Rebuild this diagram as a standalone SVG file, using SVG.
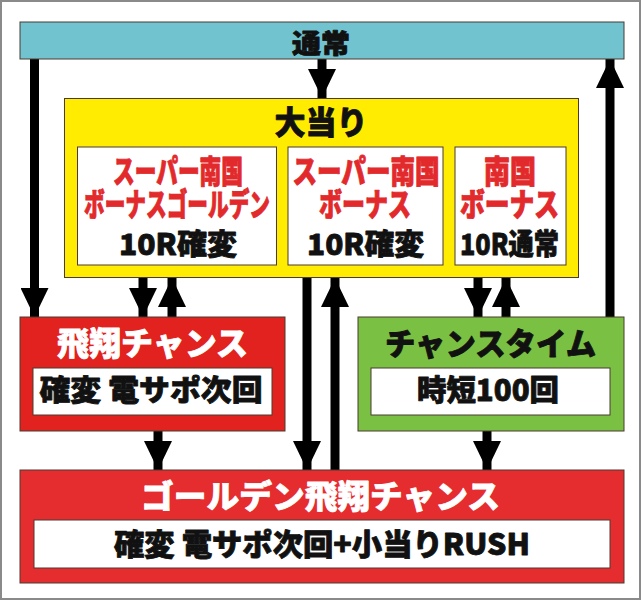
<svg xmlns="http://www.w3.org/2000/svg" width="642" height="601" viewBox="0 0 642 601">
  <style>
    text { font-family: "Noto Sans CJK JP", "Noto Sans", sans-serif; font-weight: 900; text-anchor: middle; stroke-width: 0.8px; stroke-linejoin: round; }
    .box { stroke: #4a3a30; stroke-width: 1; }
    .inner { fill: #ffffff; stroke: #4a3a30; stroke-width: 1; }
    .red { fill: #e2292b; stroke: #e2292b; font-size: 28px; }
    .blk { fill: #111111; stroke: #111111; }
    .wht { fill: #ffffff; stroke: #ffffff; }
    .conn { stroke: #000000; stroke-width: 9; fill: none; marker-end: url(#ah); }
  </style>
  <defs>
    <marker id="ah" markerUnits="userSpaceOnUse" viewBox="0 0 29 28" markerWidth="29" markerHeight="28" refX="29" refY="14" orient="auto">
      <path d="M0,0 L29,14 L0,28 Z" fill="#000000"/>
    </marker>
  </defs>

  <rect x="1" y="1" width="639" height="598" fill="#ffffff" stroke="#8a8a8a" stroke-width="2"/>

  <g id="connectors">
    <line class="conn" x1="322" y1="59" x2="322" y2="98"/>
    <line class="conn" x1="34.5" y1="59" x2="34.5" y2="317"/>
    <line class="conn" x1="610" y1="317" x2="610" y2="59"/>
    <line class="conn" x1="143" y1="278" x2="143" y2="317"/>
    <line class="conn" x1="172" y1="317" x2="172" y2="278"/>
    <line class="conn" x1="307" y1="278" x2="307" y2="470"/>
    <line class="conn" x1="335" y1="470" x2="335" y2="278"/>
    <line class="conn" x1="478" y1="278" x2="478" y2="317"/>
    <line class="conn" x1="506" y1="317" x2="506" y2="278"/>
    <line class="conn" x1="158" y1="431" x2="158" y2="470"/>
    <line class="conn" x1="487" y1="431" x2="487" y2="470"/>
  </g>

  <g id="tsujo">
    <rect class="box" x="20" y="22" width="604" height="37" fill="#70c3cf"/>
    <text class="blk" x="321" y="53" font-size="26" textLength="58" lengthAdjust="spacingAndGlyphs">通常</text>
  </g>

  <g id="ooatari">
    <rect class="box" x="64.5" y="98.5" width="514" height="179" fill="#ffec00"/>
    <text class="blk" x="321" y="134" font-size="32" textLength="93" lengthAdjust="spacingAndGlyphs">大当り</text>
  </g>

  <g id="super-golden">
    <rect class="inner" x="77.5" y="147" width="199" height="118"/>
    <text class="red" transform="translate(178,183) scale(1,1.12)" x="0" y="0" textLength="130" lengthAdjust="spacingAndGlyphs">スーパー南国</text>
    <text class="red" transform="translate(177,216) scale(1,1.12)" x="0" y="0" textLength="186" lengthAdjust="spacingAndGlyphs">ボーナスゴールデン</text>
    <text class="blk" x="178" y="255" font-size="29" textLength="118" lengthAdjust="spacingAndGlyphs">10R確変</text>
  </g>

  <g id="super-bonus">
    <rect class="inner" x="288" y="147" width="155" height="118"/>
    <text class="red" transform="translate(366,183) scale(1,1.12)" x="0" y="0" textLength="147" lengthAdjust="spacingAndGlyphs">スーパー南国</text>
    <text class="red" transform="translate(365,216) scale(1,1.12)" x="0" y="0" textLength="92" lengthAdjust="spacingAndGlyphs">ボーナス</text>
    <text class="blk" x="365.5" y="255" font-size="29" textLength="117" lengthAdjust="spacingAndGlyphs">10R確変</text>
  </g>

  <g id="nangoku-bonus">
    <rect class="inner" x="455" y="147" width="111" height="118"/>
    <text class="red" transform="translate(510,183) scale(1,1.12)" x="0" y="0" textLength="52" lengthAdjust="spacingAndGlyphs">南国</text>
    <text class="red" transform="translate(509.5,216) scale(1,1.12)" x="0" y="0" textLength="99" lengthAdjust="spacingAndGlyphs">ボーナス</text>
    <text class="blk" x="509.5" y="255" font-size="29" textLength="99" lengthAdjust="spacingAndGlyphs">10R通常</text>
  </g>

  <g id="hisho-chance">
    <rect class="box" x="20" y="317" width="265" height="114" fill="#e2221e"/>
    <text class="wht" x="152.5" y="355" font-size="32" textLength="191" lengthAdjust="spacingAndGlyphs">飛翔チャンス</text>
    <rect class="inner" x="33" y="368" width="239" height="47"/>
    <text class="blk" x="151" y="401" font-size="29" textLength="223" lengthAdjust="spacingAndGlyphs">確変 電サポ次回</text>
  </g>

  <g id="chance-time">
    <rect class="box" x="358" y="317" width="266" height="114" fill="#7ac143"/>
    <text class="blk" x="490.5" y="355" font-size="31" textLength="211" lengthAdjust="spacingAndGlyphs">チャンスタイム</text>
    <rect class="inner" x="371" y="368" width="239" height="47"/>
    <text class="blk" x="488" y="401" font-size="29" textLength="142" lengthAdjust="spacingAndGlyphs">時短100回</text>
  </g>

  <g id="golden-hisho-chance">
    <rect class="box" x="20" y="470" width="604" height="113" fill="#e52d30"/>
    <text class="wht" x="320.5" y="508" font-size="32" textLength="359" lengthAdjust="spacingAndGlyphs">ゴールデン飛翔チャンス</text>
    <rect class="inner" x="34" y="520" width="576" height="48"/>
    <text class="blk" x="322" y="555" font-size="30" textLength="416" lengthAdjust="spacingAndGlyphs">確変 電サポ次回+小当りRUSH</text>
  </g>
</svg>
